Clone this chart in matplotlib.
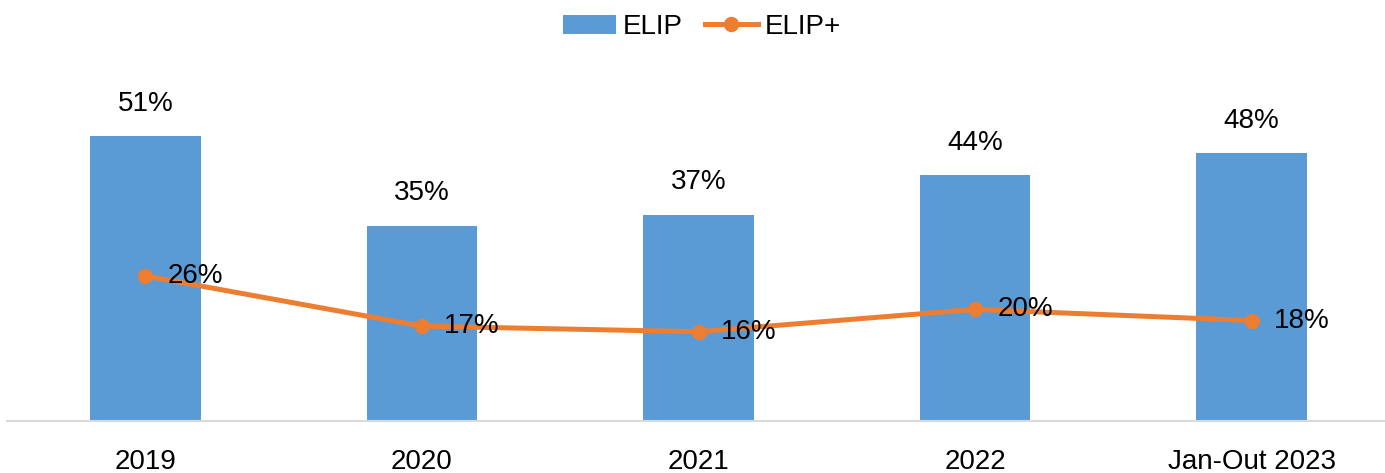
import matplotlib.pyplot as plt

# Chart data
categories = ["2019", "2020", "2021", "2022", "Jan-Out 2023"]
elip = [51, 35, 37, 44, 48]
elip_plus = [26, 17, 16, 20, 18]

BAR_COLOR = "#5B9BD5"
LINE_COLOR = "#ED7D31"

plt.rcParams["font.family"] = ["Liberation Sans", "DejaVu Sans"]

fig = plt.figure(figsize=(13.85, 4.73), dpi=100)
ax = fig.add_axes([7 / 1385, (473 - 421) / 473, 1383 / 1385, 361 / 473])

x = list(range(len(categories)))
bars = ax.bar(x, elip, width=0.4, color=BAR_COLOR, label="ELIP", zorder=2)
line, = ax.plot(x, elip_plus, color=LINE_COLOR, linewidth=3.6, marker="o",
                markersize=10, label="ELIP+", zorder=3)

# Value labels
for xi, v in zip(x, elip):
    ax.annotate(f"{v}%", (xi, v), xytext=(0, 14), textcoords="offset points",
                ha="center", va="bottom", fontsize=20)
for xi, v in zip(x, elip_plus):
    ax.annotate(f"{v}%", (xi, v), xytext=(16, 0), textcoords="offset points",
                ha="left", va="center", fontsize=20, zorder=4)

ax.set_xlim(-0.5, 4.5)
ax.set_ylim(0, 361 / 5.58)
ax.set_xticks(x)
ax.set_xticklabels(categories, fontsize=20)
ax.tick_params(axis="x", length=0, pad=20)
ax.set_yticks([])
for side in ["top", "right", "left"]:
    ax.spines[side].set_visible(False)
ax.spines["bottom"].set_color("#D9D9D9")
ax.spines["bottom"].set_linewidth(1.5)

fig.legend([bars, line], ["ELIP", "ELIP+"], loc="center",
           bbox_to_anchor=(702 / 1385, 1 - 27 / 473), ncol=2, frameon=False,
           fontsize=20, handlelength=1.9, handleheight=0.7, columnspacing=0.8,
           handletextpad=0.25)

fig.savefig("out.png", dpi=100)
